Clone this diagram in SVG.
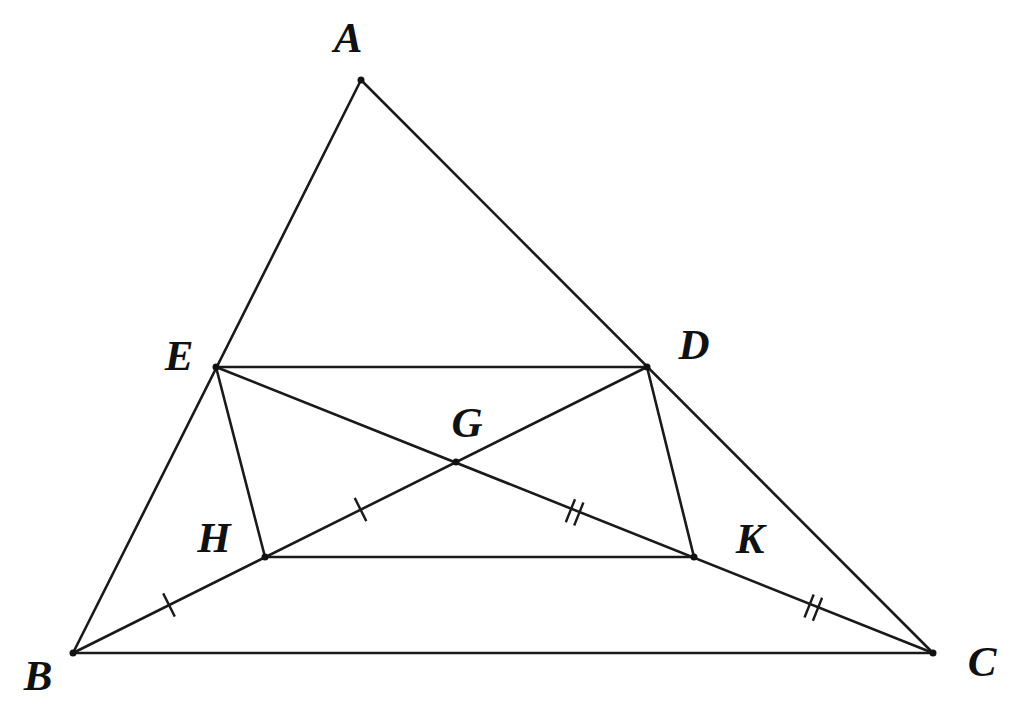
<svg xmlns="http://www.w3.org/2000/svg" width="1024" height="719" viewBox="0 0 1024 719">
<style>
.l{stroke:#1a1a1a;stroke-width:2.6;fill:none;stroke-linecap:round}
.t{stroke:#1a1a1a;stroke-width:2.4;fill:none}
.p{fill:#111}
.lb{font-family:"Liberation Serif","DejaVu Serif",serif;font-style:italic;font-weight:bold;font-size:43px;fill:#111;text-anchor:middle}
</style>
<rect width="1024" height="719" fill="#fff"/>
<g id="connectors">
<line class="l" x1="361" y1="80" x2="73" y2="653"/>
<line class="l" x1="361" y1="80" x2="933" y2="653"/>
<line class="l" x1="73" y1="653" x2="933" y2="653"/>
<line class="l" x1="216" y1="367" x2="647" y2="367"/>
<line class="l" x1="216" y1="367" x2="933" y2="653"/>
<line class="l" x1="73" y1="653" x2="647" y2="367"/>
<line class="l" x1="216" y1="367" x2="265" y2="557"/>
<line class="l" x1="647" y1="367" x2="694" y2="557"/>
<line class="l" x1="265" y1="557" x2="694" y2="557"/>
<g id="ticks">
<line class="t" x1="163.2" y1="593.4" x2="174.8" y2="616.6"/>
<line class="t" x1="354.7" y1="497.9" x2="366.3" y2="521.1"/>
<line class="t" x1="565.8" y1="522.2" x2="575.0" y2="499.2"/>
<line class="t" x1="574.2" y1="525.5" x2="583.4" y2="502.5"/>
<line class="t" x1="804.5" y1="617.5" x2="813.7" y2="594.5"/>
<line class="t" x1="812.9" y1="620.8" x2="822.1" y2="597.8"/>
</g>
</g>
<g id="A"><circle class="p" cx="361" cy="80" r="3.5"/><text class="lb" x="348" y="52">A</text></g>
<g id="B"><circle class="p" cx="73" cy="653" r="3.5"/><text class="lb" x="38" y="690">B</text></g>
<g id="C"><circle class="p" cx="933" cy="653" r="3.5"/><text class="lb" x="982" y="676">C</text></g>
<g id="D"><circle class="p" cx="647" cy="367" r="3.5"/><text class="lb" x="694" y="359">D</text></g>
<g id="E"><circle class="p" cx="216" cy="367" r="3.5"/><text class="lb" x="179" y="370">E</text></g>
<g id="G"><circle class="p" cx="456" cy="462" r="3.5"/><text class="lb" x="467" y="437">G</text></g>
<g id="H"><circle class="p" cx="265" cy="557" r="3.5"/><text class="lb" x="214" y="552">H</text></g>
<g id="K"><circle class="p" cx="694" cy="557" r="3.5"/><text class="lb" x="750" y="553">K</text></g>
</svg>
